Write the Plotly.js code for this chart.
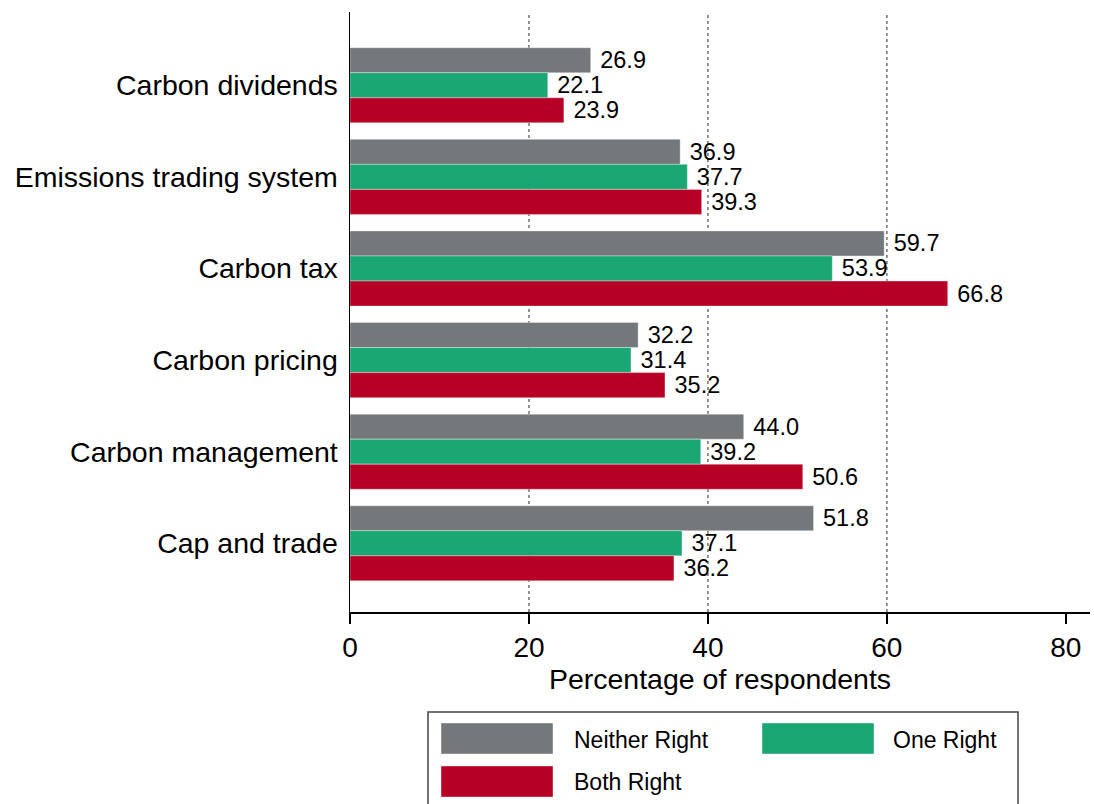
<!DOCTYPE html>
<html>
<head>
<meta charset="utf-8">
<script src="https://cdn.plot.ly/plotly-3.0.1.min.js"></script>
<style>html,body{margin:0;padding:0;background:#fff;}#chart{width:1094px;height:804px;}</style>
</head>
<body>
<div id="chart"></div>
<script>
const categories = ["Carbon dividends", "Emissions trading system", "Carbon tax", "Carbon pricing", "Carbon management", "Cap and trade"];
const neitherRight = [26.9, 36.9, 59.7, 32.2, 44.0, 51.8];
const oneRight = [22.1, 37.7, 53.9, 31.4, 39.2, 37.1];
const bothRight = [23.9, 39.3, 66.8, 35.2, 50.6, 36.2];
const seriesNames = ["Neither Right", "One Right", "Both Right"];
const seriesColors = ["#75787b", "#1aa774", "#b70026"];
const xTickVals = [0, 20, 40, 60, 80];
const gridVals = [20, 40, 60];
const xTitle = "Percentage of respondents";

const FONT = "Liberation Sans, Arial, Helvetica, sans-serif";
const W = 1094, H = 804;
const M = {l: 350, r: 4, t: 12, b: 192};
const PW = W - M.l - M.r, PH = H - M.t - M.b;
const px = x => (x - M.l) / PW;
const py = y => (H - M.b - y) / PH;

const seriesValues = [neitherRight, oneRight, bothRight];
const traces = seriesValues.map((vals, i) => ({
  type: "bar",
  orientation: "h",
  name: seriesNames[i],
  y: categories,
  x: vals,
  text: vals.map(v => "\u00a0" + v.toFixed(1)),
  textposition: "outside",
  constraintext: "none",
  cliponaxis: false,
  textfont: {family: FONT, size: 23.5, color: "#000"},
  marker: {color: seriesColors[i], line: {color: "rgba(255,255,255,0.35)", width: 1}},
  hoverinfo: "skip",
  showlegend: false
}));

const shapes = gridVals.map(g => ({
  type: "line", xref: "x", yref: "paper", x0: g, x1: g, y0: 0, y1: 1,
  line: {color: "#666", width: 1.4, dash: "dot"}, layer: "below"
}));

// custom legend (large swatches)
const legendBox = {type: "rect", xref: "paper", yref: "paper",
  x0: px(428), x1: px(1018), y0: py(712), y1: py(840),
  line: {color: "#444", width: 1.5}, fillcolor: "rgba(0,0,0,0)"};
shapes.push(legendBox);
const legendPos = [
  {sx: 441, sy: 723, tx: 572, ty: 740},
  {sx: 762, sy: 723, tx: 891, ty: 740},
  {sx: 441, sy: 766, tx: 572, ty: 782}
];
const annotations = [];
seriesNames.forEach((name, i) => {
  const p = legendPos[i];
  shapes.push({type: "rect", xref: "paper", yref: "paper",
    x0: px(p.sx), x1: px(p.sx + 112), y0: py(p.sy), y1: py(p.sy + 31),
    line: {color: "rgba(255,255,255,0.4)", width: 1}, fillcolor: seriesColors[i]});
  annotations.push({xref: "paper", yref: "paper", x: px(p.tx), y: py(p.ty),
    xanchor: "left", yanchor: "middle", showarrow: false, text: name,
    font: {family: FONT, size: 23, color: "#000"}});
});

const layout = {
  width: W, height: H,
  margin: M,
  paper_bgcolor: "#fff", plot_bgcolor: "#fff",
  font: {family: FONT, color: "#000"},
  barmode: "group",
  bargap: 0.18,
  bargroupgap: 0,
  showlegend: false,
  xaxis: {
    range: [0, 82.7],
    tickvals: xTickVals,
    ticks: "outside", ticklen: 10, tickwidth: 1.5, tickcolor: "#000",
    showline: true, linecolor: "#000", linewidth: 1.5,
    showgrid: false, zeroline: false,
    tickfont: {family: FONT, size: 28, color: "#000"},
    title: {text: xTitle, font: {family: FONT, size: 28.5, color: "#000"}, standoff: 6},
    automargin: false
  },
  yaxis: {
    type: "category",
    range: [5.75, -0.8],
    showline: true, linecolor: "#000", linewidth: 1.5,
    showgrid: false, zeroline: false,
    ticks: "",
    ticklabelstandoff: 5,
    tickfont: {family: FONT, size: 28.5, color: "#000"},
    automargin: false
  },
  shapes: shapes,
  annotations: annotations
};

Plotly.newPlot("chart", traces, layout, {displayModeBar: false, staticPlot: true});
</script>
</body>
</html>
